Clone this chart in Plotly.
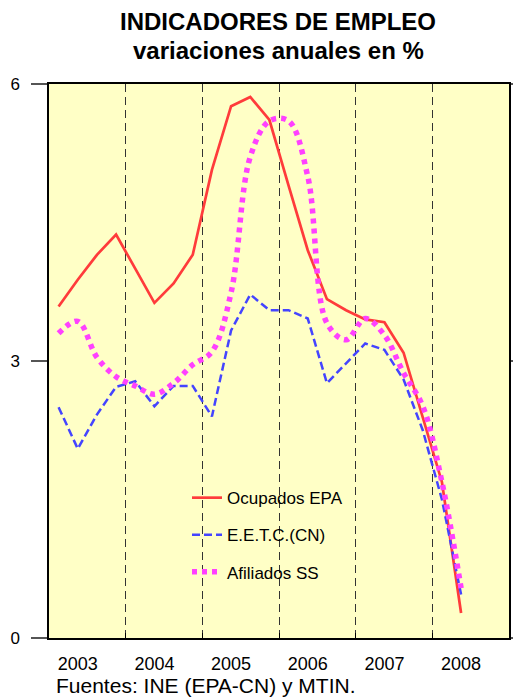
import plotly.graph_objects as go

# años del eje (etiquetas) y datos trimestrales 2003T1 - 2008T2
YEARS = [2003, 2004, 2005, 2006, 2007, 2008]

OCUPADOS_EPA = [3.59, 3.88, 4.15, 4.37,
                4.00, 3.63, 3.84, 4.15,
                5.07, 5.76, 5.86, 5.61,
                4.90, 4.20, 3.67, 3.55,
                3.45, 3.42, 3.09, 2.40,
                1.69, 0.27]

EETC_CN = [2.50, 2.05, 2.42, 2.72,
           2.78, 2.51, 2.73, 2.73,
           2.40, 3.33, 3.72, 3.55,
           3.55, 3.46, 2.76, 2.98,
           3.19, 3.12, 2.80, 2.25,
           1.50, 0.47]

AFILIADOS_SS = [3.30, 3.43, 3.04, 2.83,
                2.73, 2.64, 2.76, 2.96,
                3.10, 3.74, 5.21, 5.60,
                5.60, 5.00, 3.41, 3.23,
                3.46, 3.28, 2.87, 2.51,
                1.69, 0.54]

TITLE_1 = "INDICADORES DE EMPLEO"
TITLE_2 = "variaciones anuales en %"
SOURCE = "Fuentes: INE (EPA-CN) y MTIN."

FONT = "Arial, Liberation Sans, sans-serif"

# posición de cada trimestre en el eje (centro del trimestre)
n = len(OCUPADOS_EPA)
x_q = [YEARS[0] + (i + 0.5) / 4 for i in range(n)]

fig = go.Figure()

fig.add_trace(go.Scatter(
    x=x_q, y=OCUPADOS_EPA, mode="lines", name="Ocupados EPA",
    legendgroup="a", line=dict(color="#FF3B3B", width=2.7)
))
fig.add_trace(go.Scatter(
    x=x_q, y=EETC_CN, mode="lines", name="E.E.T.C.(CN)",
    legendgroup="b", line=dict(color="#4444FF", width=2.5, dash="8px,4px")
))
fig.add_trace(go.Scatter(
    x=x_q, y=AFILIADOS_SS, mode="lines", name="Afiliados SS",
    legendgroup="c", line=dict(color="#FF40FF", width=5.5, dash="5px,5px", shape="spline")
))

# título en dos líneas (anotaciones para controlar el interlineado)
fig.add_annotation(
    text="<b>" + TITLE_1 + "</b>", xref="paper", yref="paper",
    x=0.498, y=1.112, xanchor="center", yanchor="middle", showarrow=False,
    font=dict(family=FONT, size=24, color="black")
)
fig.add_annotation(
    text="<b>" + TITLE_2 + "</b>", xref="paper", yref="paper",
    x=0.498, y=1.061, xanchor="center", yanchor="middle", showarrow=False,
    font=dict(family=FONT, size=24, color="black")
)
fig.add_annotation(
    text=SOURCE, xref="paper", yref="paper",
    x=0.01, y=-0.085, xanchor="left", yanchor="middle", showarrow=False,
    font=dict(family=FONT, size=21, color="black")
)

# la página tiene 8 px de margen en el body: figura de 513x689
fig.update_layout(
    width=513, height=689,
    margin=dict(l=41, r=12, t=76, b=59),
    paper_bgcolor="white",
    plot_bgcolor="#FFFFC6",
    font=dict(family=FONT, color="black"),
    showlegend=True,
    legend=dict(
        x=0.3, y=0.285, xanchor="left", yanchor="top",
        bgcolor="rgba(0,0,0,0)", borderwidth=0,
        traceorder="grouped", tracegroupgap=12,
        font=dict(family=FONT, size=17, color="black")
    ),
    xaxis=dict(
        range=[YEARS[0], YEARS[-1] + 1],
        tickmode="array",
        tickvals=[y + 0.375 for y in YEARS],
        ticktext=[str(y) for y in YEARS],
        ticks="outside", ticklen=9, tickcolor="rgba(0,0,0,0)",
        tickfont=dict(family=FONT, size=18, color="black"),
        showgrid=False, zeroline=False, automargin=False,
        showline=True, linecolor="black", linewidth=1.5, mirror=True,
        minor=dict(
            tickmode="array", tickvals=YEARS[1:],
            ticks="inside", ticklen=5, tickcolor="black",
            showgrid=True, gridcolor="#333333", gridwidth=1, griddash="8px,5px"
        )
    ),
    yaxis=dict(
        range=[0, 6], tickmode="array", tickvals=[0, 3, 6],
        ticks="outside", ticklen=16, tickcolor="#555555", tickwidth=1.5,
        ticklabelstandoff=8,
        tickfont=dict(family=FONT, size=17, color="black"),
        showgrid=False, zeroline=False, automargin=False,
        showline=True, linecolor="black", linewidth=1.5, mirror="ticks"
    )
)

fig.write_html("out.html")
